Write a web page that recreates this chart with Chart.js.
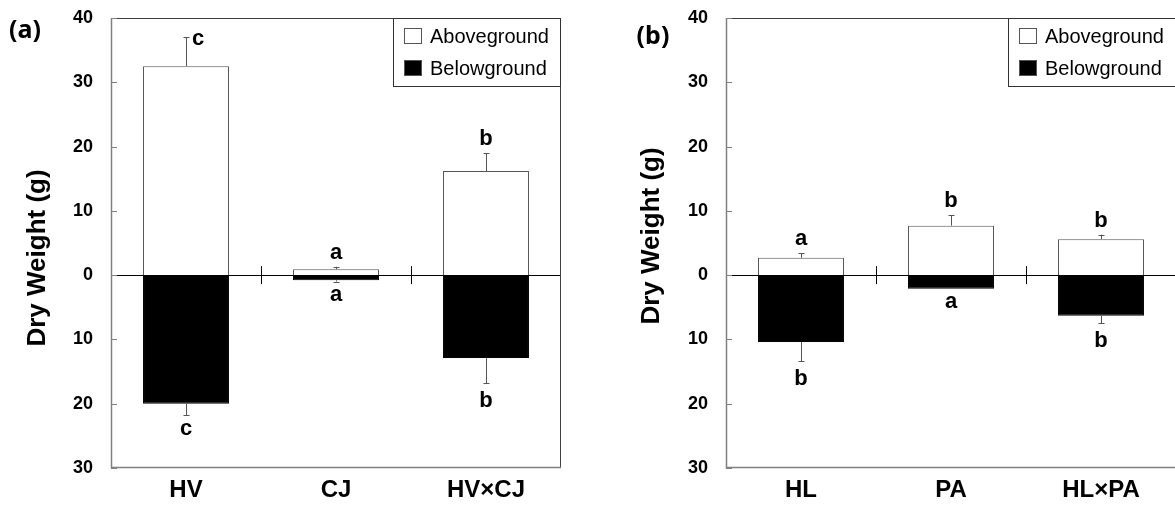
<!DOCTYPE html>
<html><head><meta charset="utf-8">
<script src="https://cdn.jsdelivr.net/npm/chart.js@4"></script>
<style>
html,body{margin:0;padding:0;background:#fff;overflow:hidden;width:1175px;height:505px;position:relative;}
canvas{position:absolute;top:0;}
#ca{left:0;}
#cb{left:600px;}
.fl{position:absolute;left:-999px;top:0;font-family:'Liberation Sans';}
</style></head><body>
<span class="fl" style="font-weight:bold">Aa</span><span class="fl">Aa</span>
<span class="fl" style="font-family:'Noto Sans';font-weight:bold">(a)</span>
<canvas id="ca" width="590" height="505"></canvas>
<canvas id="cb" width="600" height="505"></canvas>
<script>
// ---- data ----
const seriesNames = ['Aboveground', 'Belowground'];
const aCats = ['HV', 'CJ', 'HV×CJ'];
const aAbove = [32.5, 0.9, 16.2];
const aAboveErr = [4.5, 0.4, 2.8];
const aBelow = [20.0, 0.8, 12.9];
const aBelowErr = [1.8, 0.2, 3.9];
const aAboveLetters = ['c', 'a', 'b'];
const aBelowLetters = ['c', 'a', 'b'];

const bCats = ['HL', 'PA', 'HL×PA'];
const bAbove = [2.7, 7.7, 5.6];
const bAboveErr = [0.7, 1.6, 0.7];
const bBelow = [10.4, 2.1, 6.3];
const bBelowErr = [3.0, 0.0, 1.2];
const bAboveLetters = ['a', 'b', 'b'];
const bBelowLetters = ['b', 'a', 'b'];

const yMin = -30, yMax = 40, yStep = 10;
const yTitle = 'Dry Weight (g)';

const FAM = "'Liberation Sans', Arial, sans-serif";

function line(ctx, x1, y1, x2, y2) { ctx.beginPath(); ctx.moveTo(x1, y1); ctx.lineTo(x2, y2); ctx.stroke(); }

const decor = {
  id: 'decor',
  afterDatasetsDraw(chart, args, opts) {
    const { ctx, chartArea: ca, scales: { x, y } } = chart;
    ctx.save();
    const y0 = y.getPixelForValue(0);
    ctx.strokeStyle = '#000'; ctx.lineWidth = 1;
    line(ctx, ca.left, Math.round(y0) + 0.5, ca.right, Math.round(y0) + 0.5);
    for (let i = 0; i < chart.data.labels.length - 1; i++) {
      const sx = Math.round((x.getPixelForValue(i) + x.getPixelForValue(i + 1)) / 2) + 0.5;
      line(ctx, sx, y0 - 9, sx, y0 + 9);
    }
    chart.data.datasets.forEach((ds, di) => {
      const meta = chart.getDatasetMeta(di);
      meta.data.forEach((bar, i) => {
        const v = ds.data[i], e = ds.errors[i], sgn = v >= 0 ? 1 : -1;
        const yb = y.getPixelForValue(v);
        const yEnd = y.getPixelForValue(v + sgn * e);
        const bx = Math.round(bar.x) + 0.5;
        if (e > 0) {
          ctx.strokeStyle = '#555'; ctx.lineWidth = 1;
          line(ctx, bx, yb, bx, yEnd);
          line(ctx, bx - 3, Math.round(yEnd) + 0.5, bx + 3, Math.round(yEnd) + 0.5);
        }
        const L = ds.letters[i];
        ctx.font = 'bold 22px ' + FAM; ctx.fillStyle = '#000';
        const m = ctx.measureText(L);
        ctx.textBaseline = 'alphabetic';
        if (sgn > 0) {
          const base = yEnd - 8;
          if (base - m.actualBoundingBoxAscent < ca.top) {
            ctx.textAlign = 'left';
            ctx.fillText(L, bar.x + 6, yEnd + 8);
          } else {
            ctx.textAlign = 'center';
            ctx.fillText(L, bar.x, base);
          }
        } else {
          ctx.textAlign = 'center';
          ctx.fillText(L, bar.x, yEnd + 7.5 + m.actualBoundingBoxAscent);
        }
      });
    });
    ctx.lineWidth = 1;
    ctx.strokeStyle = '#404040';
    line(ctx, ca.left, ca.top + 0.5, ca.right, ca.top + 0.5);
    line(ctx, ca.right - 0.5, ca.top, ca.right - 0.5, ca.bottom);
    ctx.strokeStyle = '#808080'; ctx.lineWidth = 1.5;
    line(ctx, ca.left + 0.5, ca.top, ca.left + 0.5, ca.bottom + 0.5);
    line(ctx, ca.left, ca.bottom - 0.5, ca.right, ca.bottom - 0.5);
    ctx.lineWidth = 1; ctx.strokeStyle = '#808080';
    y.ticks.forEach(t => {
      const ty = Math.round(y.getPixelForValue(t.value)) + 0.5;
      line(ctx, ca.left, ty, ca.left + 6, ty);
    });
    const lw = 168, lh = 69, lx = ca.right - lw, ly = ca.top;
    ctx.fillStyle = '#fff'; ctx.fillRect(lx, ly, lw, lh);
    ctx.strokeStyle = '#333'; ctx.lineWidth = 1;
    ctx.strokeRect(lx + 0.5, ly + 0.5, lw - 1, lh - 1);
    chart.data.datasets.forEach((ds, j) => {
      const cy = ly + 18 + j * 32;
      ctx.fillStyle = ds.backgroundColor;
      ctx.fillRect(lx + 11, cy - 8, 18, 16);
      ctx.strokeStyle = '#555';
      ctx.strokeRect(lx + 11.5, cy - 7.5, 17, 15);
      ctx.fillStyle = '#000';
      ctx.font = '20px ' + FAM;
      ctx.textAlign = 'left'; ctx.textBaseline = 'middle';
      ctx.fillText(ds.label, lx + 37, cy + 1);
    });
    ctx.save();
    ctx.translate(opts.titleX, opts.titleY);
    ctx.rotate(-Math.PI / 2);
    ctx.font = 'bold 26px ' + FAM; ctx.fillStyle = '#000';
    ctx.textAlign = 'center'; ctx.textBaseline = 'middle';
    ctx.fillText(yTitle, 0, 0);
    ctx.restore();
    ctx.font = "bold 25px 'Noto Sans', " + FAM; ctx.fillStyle = '#000';
    ctx.textAlign = 'center'; ctx.textBaseline = 'middle';
    ctx.fillText(opts.label, opts.labelX, opts.labelY);
    ctx.restore();
  }
};

function makeChart(id, cats, above, aboveErr, below, belowErr, aLet, bLet, geo) {
  return new Chart(document.getElementById(id), {
    type: 'bar',
    data: {
      labels: cats,
      datasets: [
        { label: seriesNames[0], data: above, errors: aboveErr, letters: aLet,
          backgroundColor: '#ffffff', borderColor: '#555555', borderWidth: 1 },
        { label: seriesNames[1], data: below.map(v => -v), errors: belowErr, letters: bLet,
          backgroundColor: '#000000', borderColor: '#000000', borderWidth: 1 }
      ]
    },
    options: {
      responsive: false, animation: false,
      layout: { padding: { top: 18, right: geo.padRight, left: 0, bottom: 0 } },
      datasets: { bar: { barPercentage: 0.573, categoryPercentage: 1 } },
      plugins: {
        legend: { display: false }, tooltip: { enabled: false },
        decor: { titleX: geo.titleX, titleY: geo.titleY, label: geo.label, labelX: geo.labelX, labelY: geo.labelY }
      },
      scales: {
        x: {
          stacked: true,
          grid: { display: false, drawTicks: false }, border: { display: false },
          ticks: { color: '#000', font: { family: FAM, size: 24, weight: 'bold' }, padding: 8, maxRotation: 0, autoSkip: false },
          afterFit(s) { s.height = 37; s.paddingLeft = 0; s.paddingRight = 0; }
        },
        y: {
          stacked: true, min: yMin, max: yMax,
          grid: { display: false, drawTicks: false }, border: { display: false },
          ticks: { stepSize: yStep, color: '#000', font: { family: FAM, size: 18, weight: 'bold' }, padding: 18,
                   callback: v => Math.abs(v) },
          afterFit(s) { s.width = geo.axisW; s.paddingTop = 0; s.paddingBottom = 0; }
        }
      }
    },
    plugins: [decor]
  });
}

function drawAll() {
  makeChart('ca', aCats, aAbove, aAboveErr, aBelow, aBelowErr, aAboveLetters, aBelowLetters,
    { padRight: 29, axisW: 111, titleX: 38, titleY: 258, label: '(a)', labelX: 25, labelY: 31 });
  makeChart('cb', bCats, bAbove, bAboveErr, bBelow, bBelowErr, bAboveLetters, bBelowLetters,
    { padRight: 24, axisW: 126, titleX: 52, titleY: 236, label: '(b)', labelX: 53, labelY: 37 });
}
Promise.all([
  document.fonts.load("bold 18px 'Liberation Sans'"),
  document.fonts.load("20px 'Liberation Sans'"),
  document.fonts.load("bold 25px 'Noto Sans'")
]).then(drawAll, drawAll);
</script>
</body></html>
